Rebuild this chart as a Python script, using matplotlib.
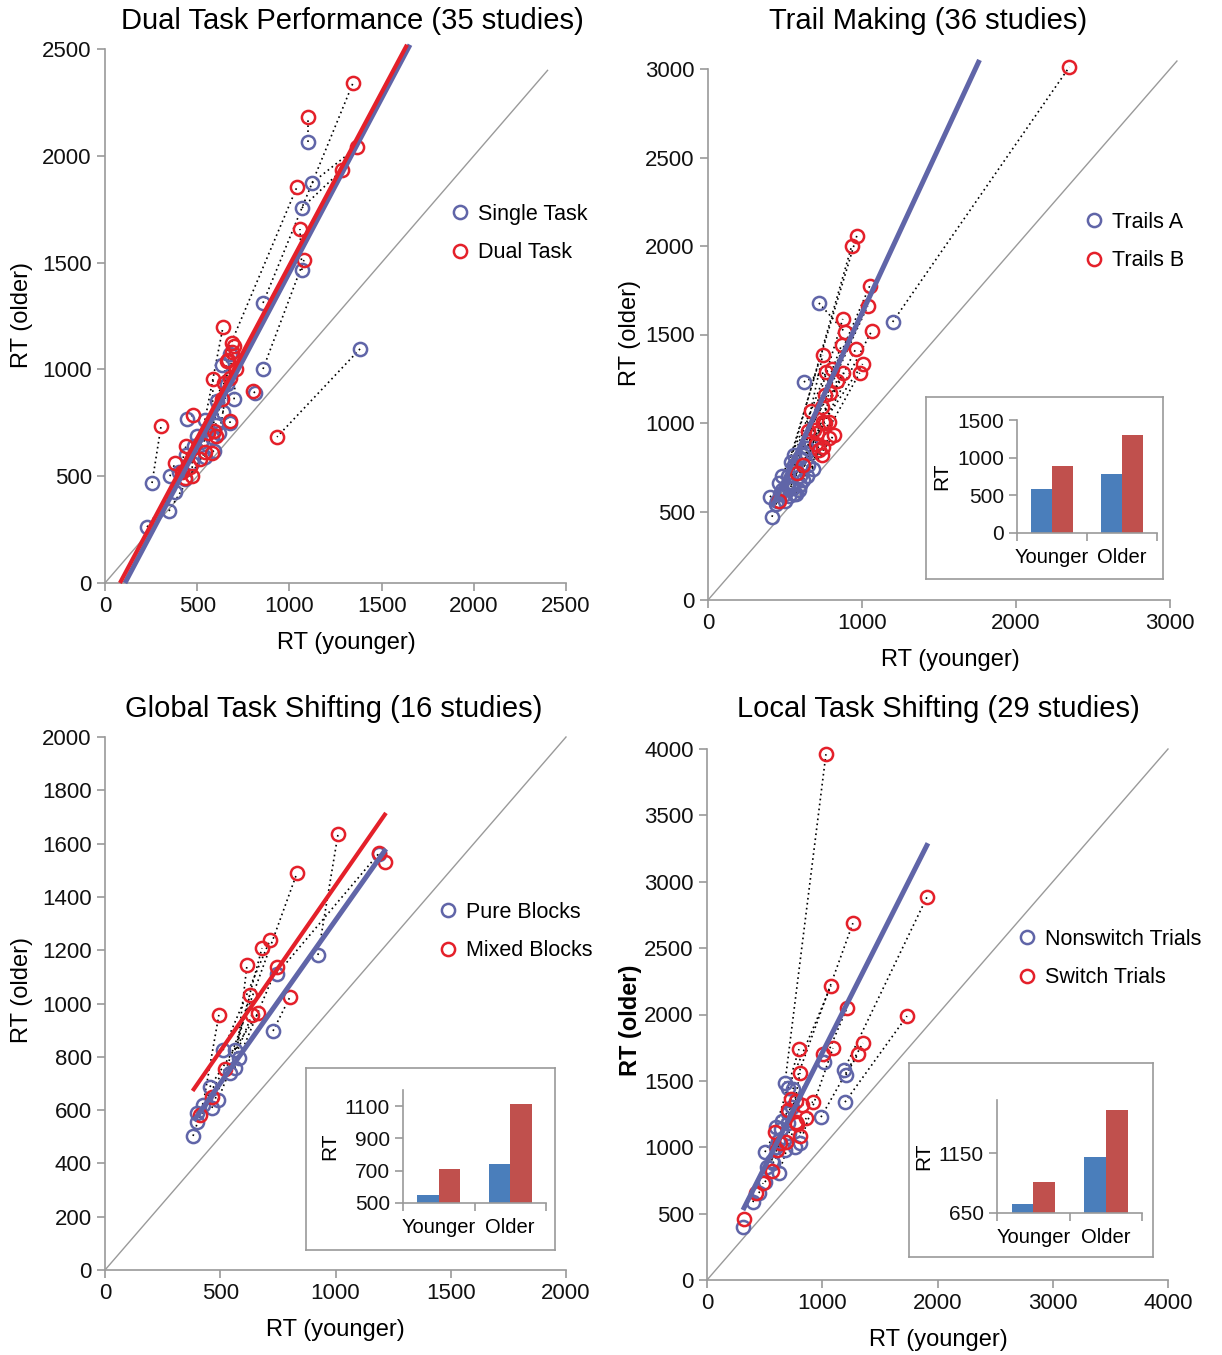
import numpy as np
import matplotlib
matplotlib.use("Agg")
from matplotlib import pyplot as plt

plt.rcParams['font.family'] = ['Liberation Sans', 'DejaVu Sans']

W, H = 1222, 1355

BLUE = '#6065a8'
RED = '#e4202a'
BAR_BLUE = '#4a7ebb'
BAR_RED = '#c0504d'
GREY = '#9a9a9a'

# ---- Dual task performance (young, old) for single and dual task
dual_single_x = [1101, 857, 1123, 1068, 634, 857, 1068, 1383, 255, 813, 678, 445, 542, 607, 678,
                 580, 542, 439, 352, 434, 380, 347, 228, 500, 520, 470, 620, 600, 560, 400, 640,
                 660, 480, 700, 590]
dual_single_y = [2065, 1311, 1873, 1756, 1021, 1002, 1465, 1096, 468, 890, 750, 768, 763, 852, 1070,
                 684, 590, 600, 500, 488, 426, 337, 262, 690, 660, 560, 700, 740, 720, 520, 800,
                 930, 640, 860, 620]
dual_dual_x = [1101, 1345, 1367, 1285, 1041, 1079, 1057, 933, 304, 803, 678, 477, 640, 689, 667,
               586, 645, 634, 380, 434, 439, 542, 461, 591, 515, 560, 700, 690, 600, 420, 660,
               680, 470, 710, 580]
dual_dual_y = [2182, 2341, 2041, 1934, 1854, 1512, 1657, 684, 735, 899, 758, 787, 1199, 1124, 1044,
               955, 937, 861, 562, 492, 641, 613, 543, 712, 580, 700, 1110, 1080, 690, 520, 1040,
               960, 500, 1000, 610]
dual_fit_single_x = [108, 1654]
dual_fit_single_y = [0, 2520]
dual_fit_dual_x = [81, 1638]
dual_fit_dual_y = [0, 2520]

# ---- Trail making (young, old) for Trails A and Trails B
trail_a_x = [1199, 720, 450, 480, 520, 560, 600, 540, 500, 620, 580, 640, 650, 622, 560, 660, 600,
             540, 520, 480, 460, 590, 680, 470, 560, 620, 640, 550, 600, 402, 440, 500, 415, 525,
             570, 635]
trail_a_y = [1571, 1678, 560, 620, 700, 760, 800, 650, 600, 820, 720, 860, 760, 1232, 820, 900, 700,
             780, 640, 700, 660, 620, 740, 600, 600, 680, 700, 630, 650, 582, 540, 560, 470, 588,
             600, 830]
trail_b_x = [2346, 888, 966, 933, 1050, 1037, 875, 1063, 868, 959, 745, 1004, 985, 804, 765, 875, 836,
             791, 758, 739, 668, 745, 784, 648, 706, 817, 784, 745, 739, 577, 700, 690, 460, 620,
             720, 760]
trail_b_y = [3011, 1514, 2057, 2000, 1774, 1661, 1588, 1520, 1441, 1418, 1384, 1333, 1283, 1305, 1288,
             1283, 1237, 1170, 1158, 1090, 1068, 1006, 1006, 955, 944, 932, 915, 864, 819, 717, 880,
             960, 560, 760, 850, 1000]
trail_fit_x = [415, 1763]
trail_fit_y = [525, 3051]

# ---- Global task shifting (young, old) for pure and mixed blocks
global_pure_x = [1189, 924, 746, 729, 512, 564, 581, 564, 542, 455, 490, 425, 464, 399, 399, 382]
global_pure_y = [1560, 1182, 1111, 897, 825, 825, 795, 758, 739, 687, 638, 619, 608, 589, 555, 503]
global_mixed_x = [1214, 1011, 1189, 802, 716, 681, 746, 616, 629, 664, 637, 494, 833, 520, 464, 412]
global_mixed_y = [1531, 1636, 1564, 1024, 1238, 1208, 1137, 1144, 1032, 964, 957, 957, 1490, 754,
                  649, 582]
global_fit_pure_x = [385, 1219]
global_fit_pure_y = [560, 1580]
global_fit_mixed_x = [380, 1219]
global_fit_mixed_y = [672, 1715]

# ---- Local task shifting (young, old) for nonswitch and switch trials
local_non_x = [676, 1188, 746, 702, 1015, 1197, 989, 1205, 807, 702, 598, 711, 676, 650, 700, 740,
               624, 620, 503, 600, 572, 560, 520, 451, 399, 312, 503, 640, 760]
local_non_y = [1483, 1581, 1438, 1446, 1642, 1340, 1227, 1544, 1032, 1257, 1152, 1107, 979, 1200,
               1180, 1300, 806, 1050, 964, 1000, 881, 900, 850, 655, 587, 399, 738, 1140, 1000]
local_sw_x = [1032, 1908, 1266, 1075, 1214, 1735, 1353, 1310, 1093, 1006, 798, 807, 728, 772, 824,
              919, 772, 781, 590, 807, 685, 633, 607, 486, 425, 321, 560, 700, 860]
local_sw_y = [3961, 2884, 2688, 2214, 2048, 1988, 1785, 1702, 1747, 1702, 1739, 1559, 1363, 1348,
              1318, 1340, 1190, 1175, 1114, 1084, 1039, 1032, 979, 730, 655, 459, 820, 1280, 1220]
local_fit_x = [312, 1917]
local_fit_y = [527, 3290]

# ---- inset bar charts: mean RT
groups = ['Younger', 'Older']
trail_bar_a = [590, 783]
trail_bar_b = [889, 1301]
global_bar_pure = [550, 741]
global_bar_mixed = [710, 1112]
local_bar_non = [725, 1117]
local_bar_sw = [908, 1508]

fig = plt.figure(figsize=(W / 100, H / 100), dpi=100)


def px_axes(l, t, r, b):
    return fig.add_axes([l / W, 1 - b / H, (r - l) / W, (b - t) / H])


def style_axes(ax, lim, xticks, yticks, diag_end):
    ax.set_xlim(0, lim)
    ax.set_ylim(0, lim)
    ax.set_xticks(xticks)
    ax.set_yticks(yticks)
    for s in ['top', 'right']:
        ax.spines[s].set_visible(False)
    for s in ['left', 'bottom']:
        ax.spines[s].set_color(GREY)
        ax.spines[s].set_linewidth(1.2)
    ax.tick_params(colors=GREY, labelcolor='#111111', labelsize=16, length=6, width=1.2)
    ax.patch.set_alpha(0)
    ax.plot([0, diag_end], [0, diag_end], color=GREY, lw=1.0, zorder=1, clip_on=False)


def scatter_pairs(ax, ax_, ay_, bx_, by_, fits, labels, legend_xy):
    for x0, y0, x1, y1 in zip(ax_, ay_, bx_, by_):
        ax.plot([x0, x1], [y0, y1], color='black', lw=1.2, ls=(0, (1, 2)), zorder=2,
                clip_on=False)
    ax.plot(ax_, ay_, 'o', mfc='none', mec=BLUE, mew=1.8, ms=9.5, zorder=3, label=labels[0],
            clip_on=False)
    ax.plot(bx_, by_, 'o', mfc='none', mec=RED, mew=1.8, ms=9.5, zorder=3, label=labels[1],
            clip_on=False)
    for (fx, fy), c, lw in fits:
        ax.plot(fx, fy, color=c, lw=lw, zorder=4, solid_capstyle='butt', clip_on=False)
    ax.legend(loc='upper left', bbox_to_anchor=(legend_xy[0] / W, 1 - legend_xy[1] / H),
              bbox_transform=fig.transFigure, frameon=False, fontsize=15.5, handlelength=1.0,
              handletextpad=0.35, labelspacing=0.8, borderpad=0, borderaxespad=0)


def fig_text(x, y, s, **kw):
    fig.text(x / W, 1 - y / H, s, ha='center', va='center', **kw)


def inset(frame, box, ylim, yticks, va, vb):
    fr = px_axes(*frame)
    fr.set_xticks([])
    fr.set_yticks([])
    for s in fr.spines.values():
        s.set_color(GREY)
        s.set_linewidth(1.2)
    fr.set_facecolor('white')
    ia = px_axes(*box)
    pos = np.arange(len(groups)) + 0.5
    ia.bar(pos - 0.15, va, width=0.3, color=BAR_BLUE, zorder=2)
    ia.bar(pos + 0.15, vb, width=0.3, color=BAR_RED, zorder=2)
    ia.set_xlim(0, len(groups))
    ia.set_ylim(*ylim)
    ia.set_yticks(yticks)
    ia.set_xticks(np.arange(len(groups) + 1))
    ia.set_xticklabels([])
    ia.set_xticks(pos, minor=True)
    ia.set_xticklabels(groups, minor=True)
    ia.tick_params(axis='x', which='minor', length=0, labelsize=14.5, pad=11)
    ia.tick_params(axis='both', which='major', colors=GREY, labelcolor='#111111', labelsize=15,
                   length=6, width=1.2)
    for s in ['top', 'right']:
        ia.spines[s].set_visible(False)
    for s in ['left', 'bottom']:
        ia.spines[s].set_color(GREY)
        ia.spines[s].set_linewidth(1.2)
    ia.patch.set_alpha(0)
    ia.set_ylabel('RT', fontsize=15)
    return ia


# panel 1
ax1 = px_axes(105, 49, 566, 583)
style_axes(ax1, 2500, [0, 500, 1000, 1500, 2000, 2500], [0, 500, 1000, 1500, 2000, 2500], 2400)
scatter_pairs(ax1, dual_single_x, dual_single_y, dual_dual_x, dual_dual_y,
              [((dual_fit_single_x, dual_fit_single_y), BLUE, 3.6),
               ((dual_fit_dual_x, dual_fit_dual_y), RED, 3.0)],
              ['Single Task', 'Dual Task'], (449, 204))
fig_text(352, 21, 'Dual Task Performance (35 studies)', fontsize=21)
fig_text(346, 643, 'RT (younger)', fontsize=17)
fig_text(22, 315, 'RT (older)', fontsize=17, rotation=90)

# panel 2
ax2 = px_axes(708, 69, 1170, 600)
style_axes(ax2, 3000, [0, 1000, 2000, 3000], [0, 500, 1000, 1500, 2000, 2500, 3000], 3045)
scatter_pairs(ax2, trail_a_x, trail_a_y, trail_b_x, trail_b_y,
              [((trail_fit_x, trail_fit_y), BLUE, 3.6)],
              ['Trails A', 'Trails B'], (1083, 212))
fig_text(928, 21, 'Trail Making (36 studies)', fontsize=21)
fig_text(950, 660, 'RT (younger)', fontsize=17)
fig_text(630, 333, 'RT (older)', fontsize=17, rotation=90)
inset((926, 397, 1163, 579), (1017, 420, 1157, 533), (0, 1500), [0, 500, 1000, 1500],
      trail_bar_a, trail_bar_b)

# panel 3
ax3 = px_axes(105, 737, 566, 1270)
style_axes(ax3, 2000, [0, 500, 1000, 1500, 2000],
           [0, 200, 400, 600, 800, 1000, 1200, 1400, 1600, 1800, 2000], 2000)
scatter_pairs(ax3, global_pure_x, global_pure_y, global_mixed_x, global_mixed_y,
              [((global_fit_pure_x, global_fit_pure_y), BLUE, 3.6),
               ((global_fit_mixed_x, global_fit_mixed_y), RED, 3.0)],
              ['Pure Blocks', 'Mixed Blocks'], (437, 902))
fig_text(334, 709, 'Global Task Shifting (16 studies)', fontsize=21)
fig_text(335, 1330, 'RT (younger)', fontsize=17)
fig_text(22, 990, 'RT (older)', fontsize=17, rotation=90)
inset((306, 1068, 555, 1250), (403, 1090, 546, 1203), (500, 1200), [500, 700, 900, 1100],
      global_bar_pure, global_bar_mixed)

# panel 4
ax4 = px_axes(707, 749, 1168, 1280)
style_axes(ax4, 4000, [0, 1000, 2000, 3000, 4000],
           [0, 500, 1000, 1500, 2000, 2500, 3000, 3500, 4000], 4000)
scatter_pairs(ax4, local_non_x, local_non_y, local_sw_x, local_sw_y,
              [((local_fit_x, local_fit_y), BLUE, 3.6)],
              ['Nonswitch Trials', 'Switch Trials'], (1016, 929))
fig_text(938, 709, 'Local Task Shifting (29 studies)', fontsize=21)
fig_text(938, 1340, 'RT (younger)', fontsize=17)
fig_text(630, 1020, 'RT (older)', fontsize=17, rotation=90, fontweight='bold')
inset((909, 1063, 1153, 1257), (997, 1100, 1142, 1213), (650, 1592), [650, 1150],
      local_bar_non, local_bar_sw)

fig.savefig('out.png', dpi=100)
